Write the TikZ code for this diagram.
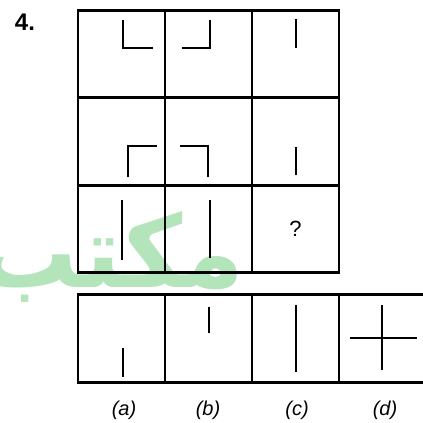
\documentclass[tikz,border=0pt]{standalone}
\usepackage{fontspec}
\setmainfont{Liberation Sans}
\newfontfamily\arabicfont[Script=Arabic]{DejaVu Sans}
\TeXXeTstate=1
\usetikzlibrary{positioning}
\definecolor{wmgreen}{RGB}{180,228,186}

\begin{document}
\begin{tikzpicture}[x=1pt,y=-1pt]
          \tikzstyle{every node}=[font=\fontsize{20}{20}\selectfont\itshape]
          \tikzstyle{cell}=[draw, line width=2.6pt, minimum width=87pt, minimum height=87.5pt, inner sep=0pt]
          \tikzstyle{stroke}=[line width=2.2pt]
      \useasboundingbox (0,0) rectangle (423,423);

      % watermark
      \node[text=wmgreen, font=\fontsize{100}{100}\selectfont\bfseries, anchor=base] (wmark) at (111,287) {\arabicfont\beginR مكتب\endR};

      \node[font=\fontsize{24}{24}\selectfont\bfseries] (num) at (25,22) {4.};

      % question grid
      \node[cell] (q1a) at (121.5,54) {};
      \node[cell] (q1b) at (208.5,54) {};
      \node[cell] (q1c) at (295.5,54) {};
      \node[cell] (q2a) at (121.5,141.5) {};
      \node[cell] (q2b) at (208.5,141.5) {};
      \node[cell] (q2c) at (295.5,141.5) {};
      \node[cell] (q3a) at (121.5,229) {};
      \node[cell] (q3b) at (208.5,229) {};
      \node[cell, font=\fontsize{22}{22}\selectfont] (q3c) at (295.5,229) {?};

      % answer row
      \node[cell] (ansa) at (121.5,338.5) {};
      \node[cell] (ansb) at (208.5,338.5) {};
      \node[cell] (ansc) at (295.5,338.5) {};
      \node[cell] (ansd) at (382.5,338.5) {};

      \node (laba) at (124,410) {(\textit{a})};
      \node (labb) at (208,410) {(\textit{b})};
      \node (labc) at (297,410) {(\textit{c})};
      \node (labd) at (385,410) {(\textit{d})};

      \draw[stroke] (123,20) -- (123,48) -- (153,48);
      \draw[stroke] (182,48) -- (210,48) -- (210,20);
      \draw[stroke] (296,19) -- (296,48);
      \draw[stroke] (128,177) -- (128,146) -- (157,146);
      \draw[stroke] (180,146) -- (208,146) -- (208,177);
      \draw[stroke] (296,147) -- (296,175);
      \draw[stroke] (122,200) -- (122,260);
      \draw[stroke] (210,200) -- (210,258);

      \draw[stroke] (123,348) -- (123,377);
      \draw[stroke] (209,307) -- (209,333);
      \draw[stroke] (296,305) -- (296,372);
      \draw[stroke] (350,338) -- (417,338);
      \draw[stroke] (382,305) -- (382,370);

\end{tikzpicture}
\end{document}
